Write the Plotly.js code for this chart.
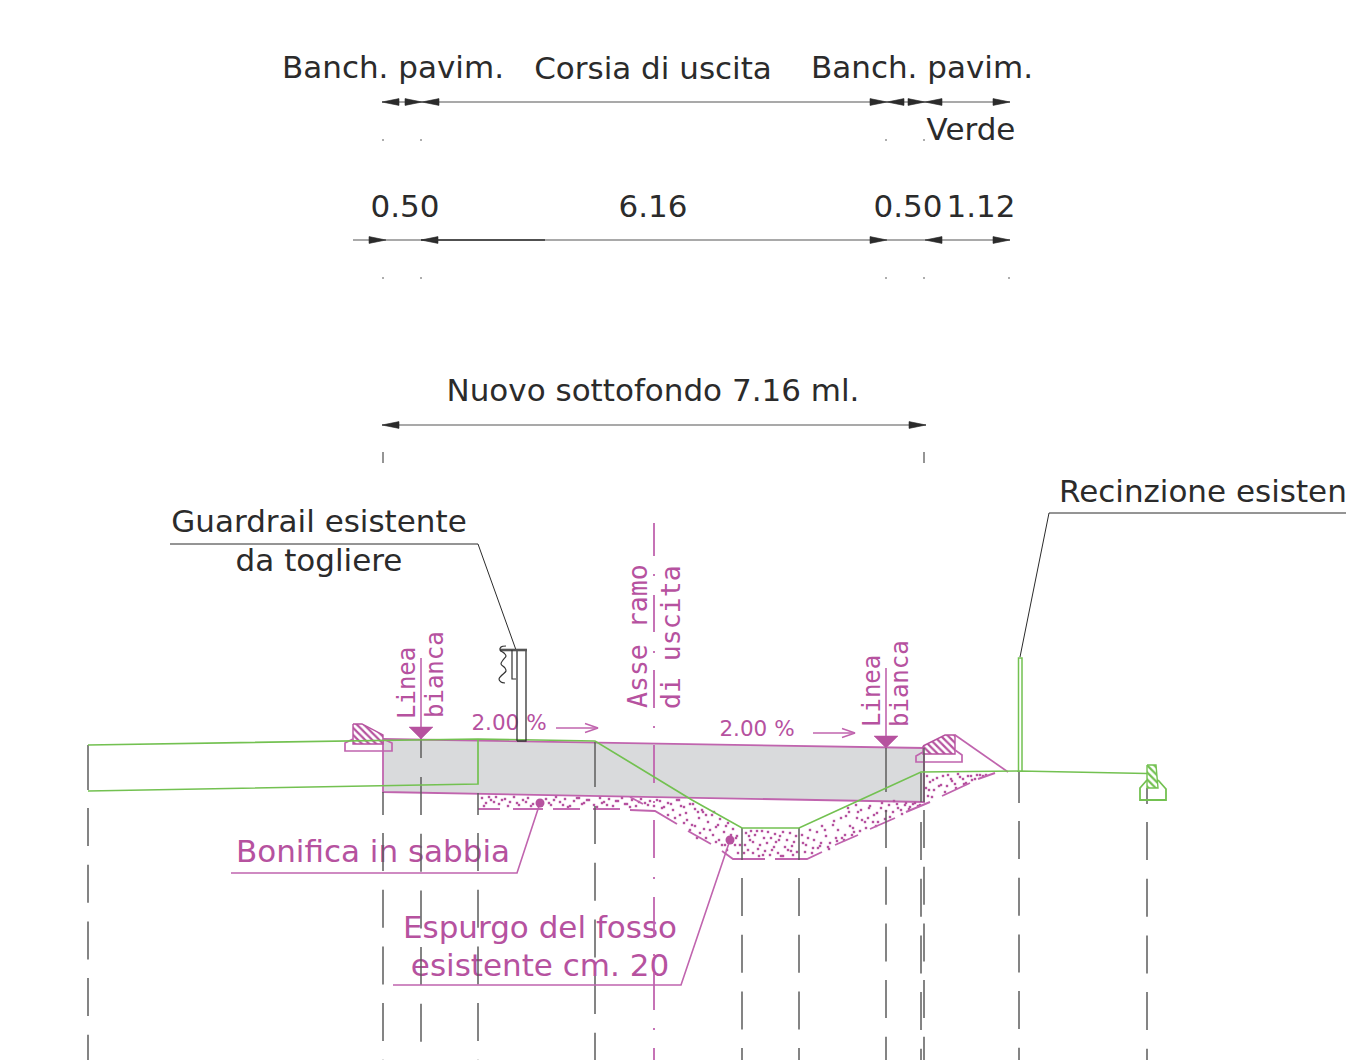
<!DOCTYPE html>
<html><head><meta charset="utf-8">
<script src="https://cdn.plot.ly/plotly-3.0.1.min.js"></script>
<style>html,body{margin:0;padding:0;background:#fff;overflow:hidden}#chart{width:1346px;height:1060px}</style>
</head><body><div id="chart"></div>
<script>
// ---- labels ----
const darkLabels = ["Banch. pavim.","Corsia di uscita","Banch. pavim.","Verde","0.50","6.16","0.50","1.12","Nuovo sottofondo 7.16 ml.","Guardrail esistente","da togliere"];
const darkLabelX = [393,653,922,971,405,653,908,981,653,319,319];
const darkLabelY = [70,71,70,132,209,209,209,209,393,524,563];
const fenceLabel = "Recinzione esistente";
const pinkLabels = ["Bonifica in sabbia","Espurgo del fosso","esistente cm. 20"];
const pinkLabelX = [373,540,540];
const pinkLabelY = [854,930,968];
const slopeLabels = ["2.00 %","2.00 %"];
const slopeLabelX = [509,757];
const slopeLabelY = [725,731];
const rotatedLabels = ["Linea","bianca","Linea","bianca","Asse ramo","di uscita"];
const rotatedX = [407,435,872,900,637,670];
const rotatedY = [683,675,691,684,636,637];
const rotatedSize = [24,24,24,24,26.5,26.5];

// ---- dimension lines ----
const dimRow1 = {y:102, x0:382, x1:1010, left:[382,422,887,925], right:[422,887,925,1010]};
const dimRow2 = {y:240, x0:353, x1:1010, left:[421,925], right:[386,887,1010]};
const dimRow3 = {y:425, x0:382, x1:926, left:[382], right:[926]};
const tickRow1X = [383,421,886,924];
const tickRow2X = [383,421,886,924,1009];
const tickRow3X = [383,924];

// ---- road section ----
const slabX = [383,924,924,383];
const slabY = [739,748,802,792];
const greenTopX = [88,383,478,595,692,742,799,860,921,1019,1147];
const greenTopY = [745,741,739,741,800,828,828,800,772,771,773.5];
const greenLowX = [88,478,478];
const greenLowY = [791,784,739];
const fenceX = [1018.5,1018.5,1022,1022];
const fenceY = [771,658,658,771];
const curbLeftHatchX = [353,362,383,383,353];
const curbLeftHatchY = [724,724,735,744,744];
const curbLeftBaseX = [353,345,345,392,392,383];
const curbLeftBaseY = [739,743,751,751,743,739];
const curbRightHatchX = [923,945,955,955,923];
const curbRightHatchY = [746,735,735,754,754];
const curbRightTopX = [955,1008];
const curbRightTopY = [735,772];
const curbRightBaseX = [923,916,916,962,962,955];
const curbRightBaseY = [752,756,762,762,755,750];
const curbFarHatchX = [1147,1156,1158,1147];
const curbFarHatchY = [765,765,788,788];
const curbFarBaseX = [1147,1140,1140,1166,1166,1158];
const curbFarBaseY = [780,788,800,800,789,780];

// ---- sand boundary (dashed by hand, as in the drawing) ----
const sandEdgeX = [478,500,null,513,543,null,553,580,null,593,620,null,630,655,677,null,688,711,null,722,733,765,null,775,807,822,null,835,858,null,870,895,null,906,930,null,942,970,null,978,995,null,630,643];
const sandEdgeY = [809,809,null,809,809,null,809,809,null,809,809,null,810,811,824,null,831,844,null,851,859,859,null,859,859,852,null,845,835,null,829,818,null,812,802,null,796,783,null,779,773,null,797,804];
const stippleX = [482,486,491,496,499,505,510,514,519,523,528,533,546,551,556,560,565,570,574,579,584,589,594,600,604,609,613,618,622,627,632,636,641,645,650,654,660,664,668,673,677,681,686,690,695,699,703,708,712,716,720,724,728,733,737,695,700,706,710,716,722,727,735,738,668,675,684,690,697,746,750,755,760,764,768,772,776,780,785,790,794,797,748,753,759,765,770,778,783,788,793,745,757,775,787,802,806,810,814,818,822,826,830,834,838,842,846,850,854,858,862,866,870,874,878,882,886,890,894,898,902,906,910,915,920,805,812,820,828,836,844,852,860,868,876,856,848,927,930,934,937,941,945,948,952,956,960,964,968,972,977,983,928,932,926];
const stippleY = [798,803,800,797,804,799,802,797,805,800,798,804,799,805,797,802,799,806,801,798,803,800,805,798,802,799,806,801,798,804,800,806,799,803,801,806,801,807,803,810,800,806,813,804,809,818,812,822,815,827,819,832,823,829,836,826,833,838,830,842,845,850,845,853,815,818,823,830,838,833,840,835,845,838,832,850,842,836,847,833,842,852,850,853,856,851,855,853,856,850,855,845,831,834,840,835,845,830,840,848,826,836,843,821,830,838,816,826,832,812,820,828,806,815,822,803,811,817,801,808,814,803,807,803,805,852,853,846,847,838,840,835,831,818,826,805,808,776,782,790,778,785,792,775,781,788,777,784,776,780,775,776,796,797,788];
const stippleExtraX = [484,489,494,502,508,517,526,531,549,554,563,568,577,582,587,597,602,607,616,625,630,639,648,657,662,671,679,684,693,698,702,706,714,718,726,731,736,740,680,687,692,704,713,719,725,749,753,758,762,767,774,779,783,792,796,744,751,763,771,781,791,803,808,813,817,821,825,829,833,837,841,845,849,853,857,861,865,869,873,877,881,885,889,893,897,901,905,909,913,918,929,933,939,943,947,951,955,958,963,966,971,975,980,986];
const stippleExtraY = [806,797,802,800,806,803,802,806,803,800,805,807,798,804,800,807,803,805,801,804,807,802,805,800,808,804,800,807,804,812,810,815,812,825,826,835,838,845,815,820,825,829,835,840,845,836,842,849,831,843,847,840,832,846,836,853,831,855,838,856,851,843,838,848,832,843,830,849,825,841,818,835,812,828,818,810,822,808,822,813,808,819,805,812,804,810,805,809,804,806,790,780,786,776,786,779,784,774,779,783,776,779,775,775];

// ---- guide lines ----
const guideX =        [88, 383,421,478,595,742,799,886,921,924,1019,1147];
const firstDashTop =  [745,792,738,793,742,828,828,748,773,748,771, 788];
const firstDashEnd =  [790,815,758,815,787,860,860,792,802,802,803, 804];
const secondDashTop = [808,833,777,833,806,878,878,810,822,810,821, 822];
const centreDashTop = [523,595,670,745,820,897,973,1048];
const centreDashEnd = [556,632,708,783,858,935,1010,1060];
const centreDots = [575,652,727,802,878,955,1029];

// ---- leaders ----
const guardLeaderX = [170,478,516];
const guardLeaderY = [544,544,650];
const fenceLeaderX = [1346,1049,1020];
const fenceLeaderY = [513,513,657];
const sandLeaderX = [231,517,540];
const sandLeaderY = [873,873,803];
const ditchLeaderX = [393,681,730];
const ditchLeaderY = [985,985,840];
const leaderDotX = [540,730];
const leaderDotY = [803,840];
const lineaStemX = [421,886];
const lineaStemTop = [658,668];
const lineaTip = [739,748];

// ---- guardrail ----
const postX = [517,517,526,526,517];
const postY = [741,650,650,741,741];
const railBracketX = [512,512,516];
const railBracketY = [650,679,679];
const railWaveX = [506,501,500,504,506,503,501,505,506,502,499,501,505];
const railWaveY = [646,647,650,653,656,660,664,668,671,675,679,682,683];

const PINK='#b6529f', LPINK='#c064ae', GREEN='#73c151', DARK='#2b2b2b', GREY='#5c5c5c';
const FONT='DejaVu Sans', MONO='DejaVu Sans Mono';
const traces=[];
function line(x,y,color,width,extra){traces.push(Object.assign({type:'scatter',mode:'lines',x:x,y:y,line:{color:color,width:width},hoverinfo:'skip',showlegend:false},extra||{}));}
function poly(x,y,fill,lineColor,w){traces.push({type:'scatter',mode:'lines',x:x.concat([x[0]]),y:y.concat([y[0]]),fill:'toself',fillcolor:fill,line:{color:lineColor,width:w},hoverinfo:'skip',showlegend:false});}
function hatch(x,y,color){traces.push({type:'scatter',mode:'lines',x:x.concat([x[0]]),y:y.concat([y[0]]),fill:'toself',fillcolor:'rgba(255,255,255,0)',fillpattern:{shape:'\\',fgcolor:color,bgcolor:'#fff',size:5,solidity:0.45},line:{color:color,width:1.4},hoverinfo:'skip',showlegend:false});}
function text(t,x,y,color,size,pos){traces.push({type:'scatter',mode:'text',x:x,y:y,text:t,textposition:pos||'middle center',textfont:{family:FONT,size:size,color:color},hoverinfo:'skip',showlegend:false});}
function dims(r){
  line([r.x0,r.x1],[r.y,r.y],'#555',1.2);
  r.left.forEach(t=>poly([t,t+17,t+17],[r.y,r.y-3.4,r.y+3.4],DARK,DARK,0.6));
  r.right.forEach(t=>poly([t,t-17,t-17],[r.y,r.y-3.4,r.y+3.4],DARK,DARK,0.6));
}
function seg(xs,y0,y1){const X=[],Y=[];xs.forEach(x=>{X.push(x,x,null);Y.push(y0,y1,null);});return [X,Y];}

// text first, so guides run over it as in the drawing
text(darkLabels,darkLabelX,darkLabelY,DARK,31);
text([fenceLabel],[1059],[494],DARK,31,'middle right');
text(pinkLabels,pinkLabelX,pinkLabelY,PINK,31);
text(slopeLabels,slopeLabelX,slopeLabelY,PINK,21.5);

dims(dimRow1); dims(dimRow2); dims(dimRow3);
line([421,545],[240,240],'#333',1.6);
let s=seg(tickRow1X,139,141); line(s[0],s[1],GREY,1);
s=seg(tickRow2X,277,279); line(s[0],s[1],GREY,1);
s=seg(tickRow3X,452,463); line(s[0],s[1],GREY,1.3);

poly(slabX,slabY,'#d9dadc',LPINK,1.8);
hatch(curbLeftHatchX,curbLeftHatchY,PINK);
line(curbLeftBaseX,curbLeftBaseY,LPINK,1.7);
hatch(curbRightHatchX,curbRightHatchY,PINK);
line(curbRightTopX,curbRightTopY,LPINK,1.7);
line(curbRightBaseX,curbRightBaseY,LPINK,1.7);

traces.push({type:'scatter',mode:'markers',x:stippleX.concat(stippleExtraX),y:stippleY.concat(stippleExtraY),marker:{color:PINK,size:2.4,symbol:'square'},hoverinfo:'skip',showlegend:false});
line(sandEdgeX,sandEdgeY,LPINK,1.9);

guideX.forEach((x,i)=>{
  line([x,x],[firstDashTop[i],firstDashEnd[i]],GREY,1.5);
  line([x,x],[secondDashTop[i],1060],GREY,1.5,{line:{color:GREY,width:1.5,dash:'38px,18.7px'}});
});
const cX=[],cY=[];
centreDashTop.forEach((t,i)=>{cX.push(654,654,null);cY.push(t,centreDashEnd[i],null);});
centreDots.forEach(t=>{cX.push(654,654,null);cY.push(t-1,t+1,null);});
line(cX,cY,LPINK,1.8);

line(greenTopX,greenTopY,GREEN,1.7);
line(greenLowX,greenLowY,GREEN,1.7);
line(fenceX,fenceY,GREEN,1.5);
hatch(curbFarHatchX,curbFarHatchY,GREEN);
line(curbFarBaseX,curbFarBaseY,GREEN,1.8);

line(guardLeaderX,guardLeaderY,DARK,1);
line(fenceLeaderX,fenceLeaderY,DARK,1);
line(sandLeaderX,sandLeaderY,LPINK,1.6);
line(ditchLeaderX,ditchLeaderY,LPINK,1.6);
traces.push({type:'scatter',mode:'markers',x:leaderDotX,y:leaderDotY,marker:{color:PINK,size:9},hoverinfo:'skip',showlegend:false});

lineaStemX.forEach((x,i)=>{
  line([x,x],[lineaStemTop[i],lineaTip[i]],LPINK,1.6);
  poly([x,x-12,x+12],[lineaTip[i],lineaTip[i]-12,lineaTip[i]-12],PINK,PINK,0.5);
});
// slope arrows
[[556,598,728],[813,855,733]].forEach(a=>{
  line([a[0],a[1]],[a[2],a[2]],LPINK,1.4);
  line([a[1]-13,a[1],a[1]-13],[a[2]-4.5,a[2],a[2]+4.5],LPINK,1.4);
});

line(postX,postY,'#333',1.3);
line([500,527],[650,650],'#555',2.6);
line(railBracketX,railBracketY,'#333',1.2);
line(railWaveX,railWaveY,'#333',1.2,{line:{color:'#333',width:1.2,shape:'spline'}});

const annotations=rotatedLabels.map((t,i)=>({x:rotatedX[i],y:rotatedY[i],xref:'x',yref:'y',text:t,showarrow:false,textangle:-90,xanchor:'center',yanchor:'middle',font:{family:MONO,size:rotatedSize[i],color:PINK}}));

Plotly.newPlot('chart',traces,{
  width:1346,height:1060,margin:{l:0,r:0,t:0,b:0},
  paper_bgcolor:'#fff',plot_bgcolor:'#fff',showlegend:false,
  xaxis:{range:[0,1346],visible:false,fixedrange:true},
  yaxis:{range:[1060,0],visible:false,fixedrange:true},
  annotations:annotations,hovermode:false
},{displayModeBar:false,staticPlot:true});
</script></body></html>
